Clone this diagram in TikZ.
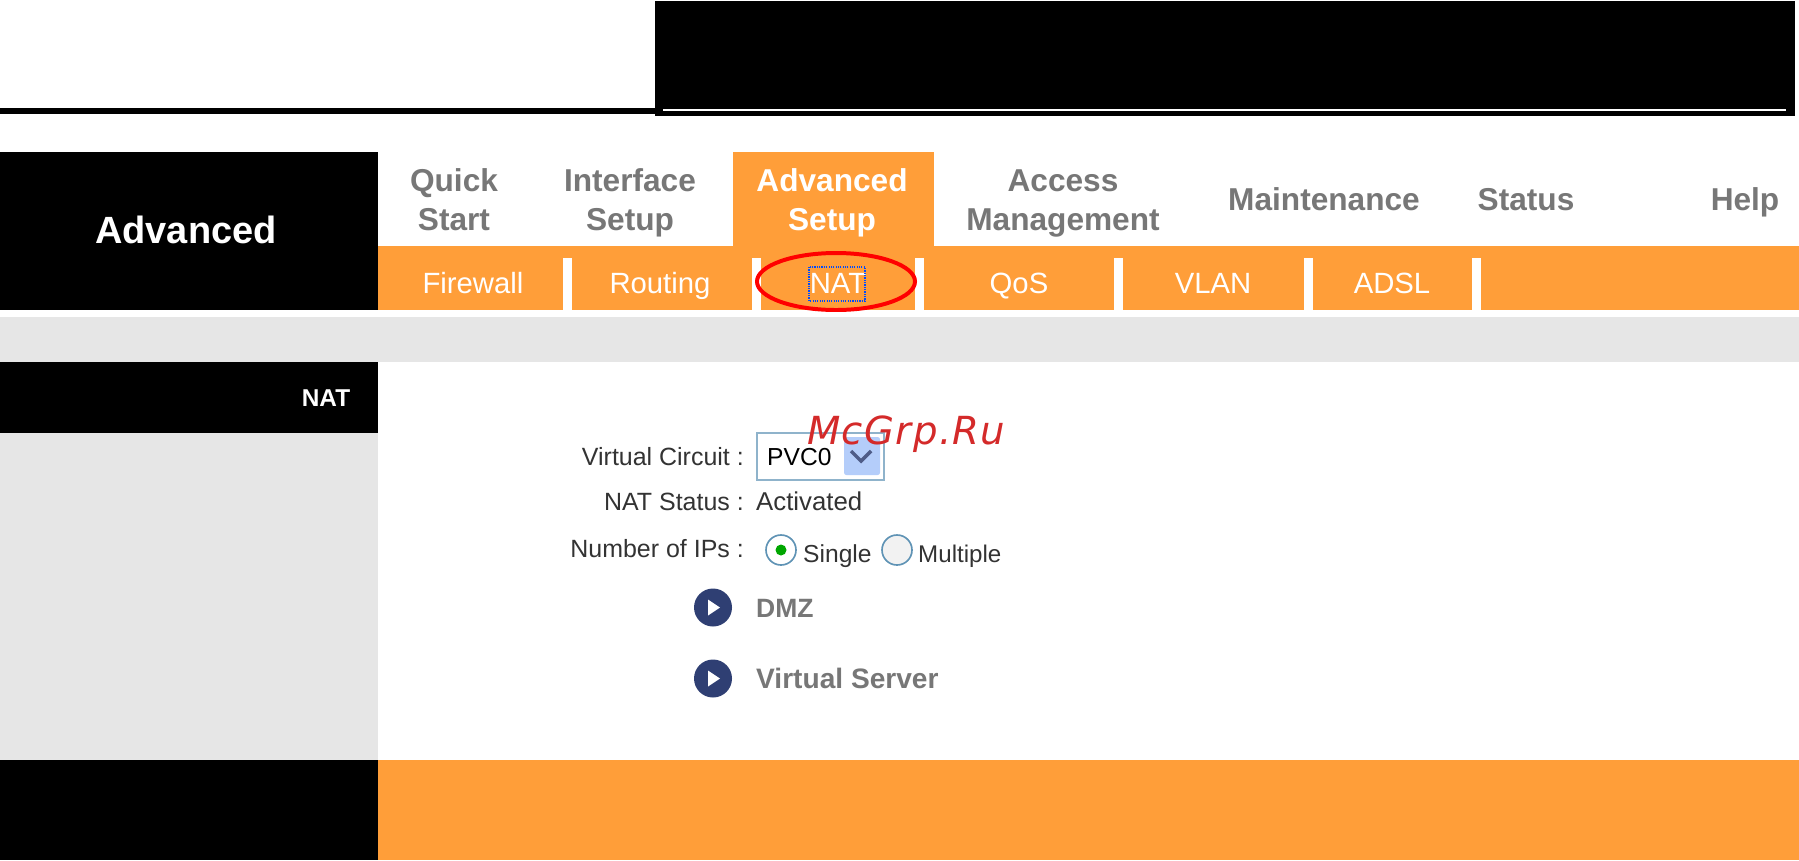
\documentclass[tikz,border=0pt]{standalone}
\usepackage{fontspec}
\setmainfont{Liberation Sans}
\newfontfamily\markfont{DejaVu Sans}
\usetikzlibrary{calc}
\definecolor{routerorange}{HTML}{FF9E39}
\definecolor{panelgray}{HTML}{E6E6E6}
\definecolor{menugray}{HTML}{777777}
\definecolor{formtext}{HTML}{333333}
\definecolor{bulletblue}{HTML}{2F3F73}
\definecolor{ringblue}{HTML}{5F93B5}
\definecolor{buttonblue}{HTML}{B4CDFA}
\definecolor{markred}{HTML}{D42A2A}
\newcommand{\twolines}[2]{\strut #1\\\strut #2}
\tikzset{
 caponly/.style={text height=#1, text depth=0pt},
 menutext/.style={inner sep=0, align=center, text=menugray, font=\fontsize{27}{33}\selectfont\bfseries},
 subtext/.style={inner sep=0, caponly=18pt, text=white, font=\fontsize{25}{30}\selectfont},
 formlabel/.style={inner sep=0, caponly=15.2pt, anchor=east, text=formtext, font=\fontsize{21.3}{25}\selectfont},
 formvalue/.style={inner sep=0, caponly=15.2pt, anchor=west, text=formtext, font=\fontsize{21}{25}\selectfont},
 linktext/.style={inner sep=0, caponly=16.2pt, anchor=west, text=menugray},
 radioring/.style={draw=ringblue, line width=1.4pt}
}
\begin{document}
\begin{tikzpicture} [x=.03cm, y=-.03cm]
\useasboundingbox (0,0) rectangle (1799,860);
\fill[white] (0,0) rectangle (1799,860);
% page header
\fill[black] (0,107.5) rectangle (655,114);
\fill[black] (655,1) rectangle (1795,116);
\fill[white] (663,109) rectangle (1786,110.5);
% left column
\fill[black] (0,152) rectangle (378,310);
\fill[panelgray] (0,317) rectangle (1799,362);
\fill[black] (0,362) rectangle (378,433);
\fill[panelgray] (0,433) rectangle (378,760);
\fill[black] (0,760) rectangle (378,860);
\fill[routerorange] (378,760) rectangle (1799,860);
% menu bands
\fill[routerorange] (378,246) rectangle (1799,310);
\fill[routerorange] (733,152) rectangle (934,246);
\foreach \x in {563,752,915,1114,1304,1472} {
 \fill[white] (\x,258) rectangle ++(9,52);
}
\node[inner sep=0, caponly=23pt, text=white, font=\fontsize{32.4}{38}\selectfont\bfseries] (advanced) at (186,230) {Advanced};
\node[inner sep=0, caponly=15pt, text=white, font=\fontsize{20.8}{25}\selectfont\bfseries] (natside) at (326,398) {NAT};
\node[menutext] (quick) at (454,203) {\twolines{Quick}{Start}};
\node[menutext] (interface) at (630,203) {\twolines{Interface}{Setup}};
\node[menutext, text=white] (setup) at (832,203) {\twolines{Advanced}{Setup}};
\node[menutext] (access) at (1063,203) {\twolines{Access}{Management}};
\node[menutext, caponly=19.3pt] (maintenance) at (1324,199) {Maintenance};
\node[menutext, caponly=19.3pt] (status) at (1526,199) {Status};
\node[menutext, caponly=19.3pt] (help) at (1745,199) {Help};
\foreach \x/\t in {473/Firewall,660/Routing,838/NAT,1019/QoS,1213/VLAN,1392/ADSL} {
 \node[subtext] (sub\t) at (\x,283) {\t};
}
\draw[blue!70!cyan, densely dotted, line width=1pt] (809,267) rectangle (865,301);
\draw[red, line width=3.4pt] (836,281.5) ellipse (79 and 28.5);
% form
\node[formlabel] (circuit) at (744,457) {Virtual Circuit :};
\node[formlabel] (natstatus) at (744,502) {NAT Status :};
\node[formlabel] (numips) at (744,549) {Number of IPs :};
\node[formvalue, font=\fontsize{22}{25}\selectfont] (activated) at (756,502) {Activated};
\draw[draw=ringblue!70, line width=1.2pt] (757,433) rectangle (884,480);
\fill[buttonblue, rounded corners=2] (844,437) rectangle (880,475);
\draw[bulletblue!85, line width=3pt] (851,451) -- (861,461) -- (871,451);
\node[formvalue, text=black] (pvc) at (767,457) {PVC0};
\draw[radioring, fill=white] (781,550) circle (15);
\fill[green!65!black] (781,550) circle (5.5);
\draw[radioring, fill=black!5] (897,550) circle (15);
\node[formvalue] (single) at (803,554) {Single};
\node[formvalue, font=\fontsize{20.6}{25}\selectfont] (multiple) at (918,554) {Multiple};
\foreach \y/\t/\n/\s in {607.5/DMZ/dmz/22.6,678.5/Virtual Server/vserver/24} {
 \fill[bulletblue] (713,\y) circle (19);
 \fill[white] (708,\y-8) -- (720,\y) -- (708,\y+8) -- cycle;
 \node[linktext, font=\fontsize{\s}{27}\selectfont\bfseries] (\n) at (756,\y) {\t};
}
\node[inner sep=0, anchor=base west, text=markred, font=\fontsize{33}{36}\markfont\itshape\addfontfeatures{LetterSpace=3.5}] (mark) at (807,444) {McGrp.Ru};
\end{tikzpicture}
\end{document}
